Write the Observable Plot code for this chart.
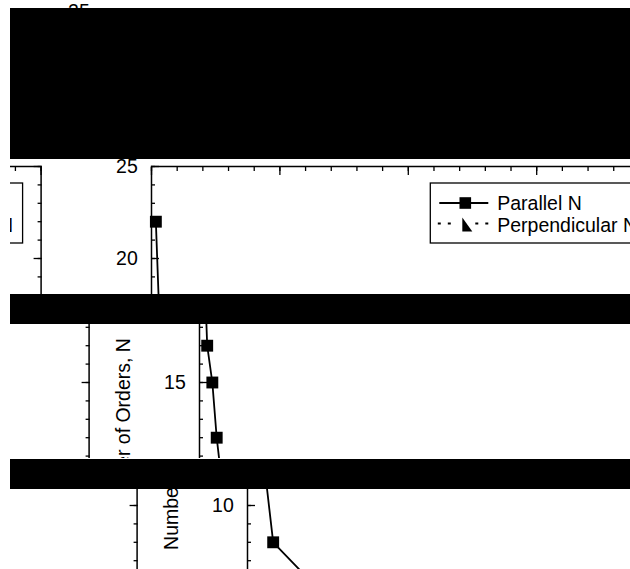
<!DOCTYPE html>
<html><head><meta charset="utf-8">
<script src="https://cdn.jsdelivr.net/npm/d3@7"></script>
<script src="https://cdn.jsdelivr.net/npm/@observablehq/plot@0.6"></script>
<style>
html,body{margin:0;padding:0;background:#fff;}
#page{position:relative;width:630px;height:569px;overflow:hidden;background:#fff;}
.strip{position:absolute;overflow:hidden;left:10px;width:620px;}
.bar{position:absolute;left:10px;width:620px;background:#000;}
.fig{position:absolute;left:0;top:0;width:2000px;height:1000px;}
.fig svg{position:absolute;max-width:none !important;}
</style></head><body><div id="page"></div>
<script>
// ---- data ----
const seriesNames = ["Parallel N", "Perpendicular N"];
const yTitle = "Number of Orders, N";
const parallelX = [1.7, 3.0, 5, 6.7, 10, 30, 50, 100];
const parallelN = [22, 17, 15, 12, 8, 5.1, 4.0, 2.8];
const perpX = [1.7, 3.0, 5, 6.7, 10, 30, 50, 100];
const perpN = [6.0, 5.2, 4.6, 4.0, 3.3, 2.4, 2.0, 1.5];
const yMajor = [0, 5, 10, 15, 20, 25];
const yMinor = d3.range(0, 26, 1);
const xMajor = [0, 50, 100, 150, 200];
const xMinor = d3.range(0, 201, 10);

const FONT = '"Liberation Sans", Arial, Helvetica, sans-serif';
const rightTri = {
  draw(ctx, size) {
    const s = Math.sqrt(size);
    ctx.moveTo(-s * 0.45, -s * 0.6);
    ctx.lineTo(-s * 0.45, s * 0.6);
    ctx.lineTo(s * 0.45, s * 0.6);
    ctx.closePath();
  }
};

function panel(par, perp) {
  const W = 513.6, H = 460, ml = 120, mt = 40, mr = 40, mb = 60;
  const chart = Plot.plot({
    width: ml + W + mr, height: mt + H + mb,
    marginLeft: ml, marginTop: mt, marginRight: mr, marginBottom: mb,
    style: {fontFamily: FONT, fontSize: "19.5px", color: "#000", background: "transparent", overflow: "visible"},
    x: {domain: [0, 200]},
    y: {domain: [0, 25]},
    marks: [
      Plot.axisY({anchor: "left", ticks: yMinor, tickSize: 4, dx: 4, fill: "none", strokeWidth: 1.3}),
      Plot.axisY({anchor: "left", ticks: yMajor, tickSize: 8, dx: 8, tickPadding: 13.7, strokeWidth: 1.3, label: null, tickFormat: d => String(d)}),
      Plot.axisY({anchor: "right", ticks: yMinor, tickSize: 4, dx: -4, fill: "none", strokeWidth: 1.3}),
      Plot.axisY({anchor: "right", ticks: yMajor, tickSize: 8, dx: -8, fill: "none", strokeWidth: 1.3}),
      Plot.axisX({anchor: "top", ticks: xMinor, tickSize: 4, dy: 4, fill: "none", strokeWidth: 1.3}),
      Plot.axisX({anchor: "top", ticks: xMajor, tickSize: 8, dy: 8, fill: "none", strokeWidth: 1.3}),
      Plot.axisX({anchor: "bottom", ticks: xMinor, tickSize: 4, dy: -4, fill: "none", strokeWidth: 1.3}),
      Plot.axisX({anchor: "bottom", ticks: xMajor, tickSize: 8, dy: -8, tickPadding: 14, strokeWidth: 1.3, label: null}),
      Plot.frame({stroke: "#000", strokeWidth: 1.5}),
      Plot.text([yTitle], {text: d => d, frameAnchor: "left", textAnchor: "middle", rotate: -90, dx: -75.4, fontSize: 19.5, fill: "#000"}),
      Plot.line(perp, {x: "x", y: "n", stroke: "#000", strokeWidth: 1.8, strokeDasharray: "3,7"}),
      Plot.dot(perp, {x: "x", y: "n", symbol: rightTri, fill: "#000", r: 6.7}),
      Plot.line(par, {x: "x", y: "n", stroke: "#000", strokeWidth: 1.8}),
      Plot.dot(par, {x: "x", y: "n", symbol: "square", fill: "#000", r: 6.7})
    ]
  });
  chart.style.maxWidth = "none";
  chart.style.width = (ml + W + mr) + "px";
  chart.style.height = (mt + H + mb) + "px";
  // legend (line + symbol samples), top-right inside the frame
  const svg = d3.select(chart);
  const bw = 216.3, bh = 60;
  const bx = ml + W - 18 - bw, by = mt + 17;
  const g = svg.append("g").attr("font-family", FONT).attr("font-size", 19.5).attr("text-anchor", "start");
  g.append("rect").attr("x", bx).attr("y", by).attr("width", bw).attr("height", bh)
    .attr("fill", "#fff").attr("stroke", "#000").attr("stroke-width", 1.3);
  g.append("line").attr("x1", bx + 9).attr("x2", bx + 58).attr("y1", by + 20).attr("y2", by + 20)
    .attr("stroke", "#000").attr("stroke-width", 2);
  g.append("rect").attr("x", bx + 35 - 5.8).attr("y", by + 20 - 5.8).attr("width", 11.6).attr("height", 11.6).attr("fill", "#000");
  g.append("text").attr("x", bx + 67).attr("y", by + 27.3).attr("fill", "#000").attr("text-anchor", "start").text(seriesNames[0]);
  g.append("line").attr("x1", bx + 7.5).attr("x2", bx + 24).attr("y1", by + 40.5).attr("y2", by + 40.5)
    .attr("stroke", "#000").attr("stroke-width", 2).attr("stroke-dasharray", "3,7");
  g.append("line").attr("x1", bx + 45).attr("x2", bx + 60).attr("y1", by + 40.5).attr("y2", by + 40.5)
    .attr("stroke", "#000").attr("stroke-width", 2).attr("stroke-dasharray", "3,7");
  g.append("path").attr("d", `M${bx + 32},${by + 34.6}L${bx + 32},${by + 48.5}L${bx + 42},${by + 48.5}Z`).attr("fill", "#000");
  g.append("text").attr("x", bx + 67).attr("y", by + 49).attr("fill", "#000").attr("text-anchor", "start").text(seriesNames[1]);
  return chart;
}

const parallel = parallelX.map((x, i) => ({x, n: parallelN[i]}));
const perpendicular = perpX.map((x, i) => ({x, n: perpN[i]}));

function figure() {
  const fig = document.createElement("div");
  fig.className = "fig";
  const right = panel(parallel, perpendicular);
  right.style.left = "30.7px"; right.style.top = "125.7px";
  const left = panel([], []);
  left.style.left = "-592.9px"; left.style.top = "125.7px";
  fig.appendChild(left);
  fig.appendChild(right);
  return fig;
}

// picture is cut into shifted horizontal slices separated by black bands
const strips = [
  {top: 0, bottom: 8.3, dx: -48, dy: -155},
  {top: 159, bottom: 294.3, dx: 0, dy: 0},
  {top: 324.3, bottom: 458.5, dx: 48, dy: 32.6},
  {top: 489.3, bottom: 569, dx: 96, dy: 63.3}
];
const bands = [[8.3, 159], [294.3, 324.3], [458.5, 489.3]];

const page = document.getElementById("page");
for (const s of strips) {
  const d = document.createElement("div");
  d.className = "strip";
  d.style.top = s.top + "px";
  d.style.height = (s.bottom - s.top) + "px";
  const f = figure();
  f.style.left = (s.dx - 10) + "px";
  f.style.top = (s.dy - s.top) + "px";
  d.appendChild(f);
  page.appendChild(d);
}
for (const [a, b] of bands) {
  const d = document.createElement("div");
  d.className = "bar";
  d.style.top = a + "px";
  d.style.height = (b - a) + "px";
  page.appendChild(d);
}
</script>
</body></html>
